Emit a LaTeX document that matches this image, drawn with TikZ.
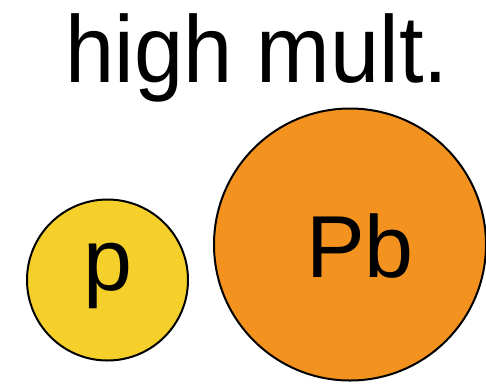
\documentclass[tikz,border=0pt]{standalone}
\usepackage{fontspec}
\setmainfont{Liberation Sans}
\usetikzlibrary{calc}

\definecolor{protonyellow}{RGB}{245,208,42}
\definecolor{leadorange}{RGB}{243,146,30}

\begin{document}
\begin{tikzpicture}[x=1pt, y=-1pt,
    nucleus/.style={circle, draw=black, line width=2pt, inner sep=0pt},
    lbl/.style={font=\fontsize{88}{96}\selectfont, anchor=base, inner sep=0pt}]
      \useasboundingbox (0,0) rectangle (486,389);
      \node[anchor=base, inner sep=0pt, xscale=0.93, transform shape,
            font=\fontsize{95}{100}\selectfont] (title) at (257,82) {high mult.};
      \node[nucleus, fill=protonyellow, minimum size=161pt] (p) at (107.5,280) {};
      \node[nucleus, fill=leadorange, minimum size=272pt] (pb) at (350,244.5) {};
      \node[lbl] (plbl) at ($(p)+(0,10)$) {p};
      \node[lbl] (pblbl) at ($(pb)+(10,32.5)$) {Pb};
    \end{tikzpicture}
\end{document}
